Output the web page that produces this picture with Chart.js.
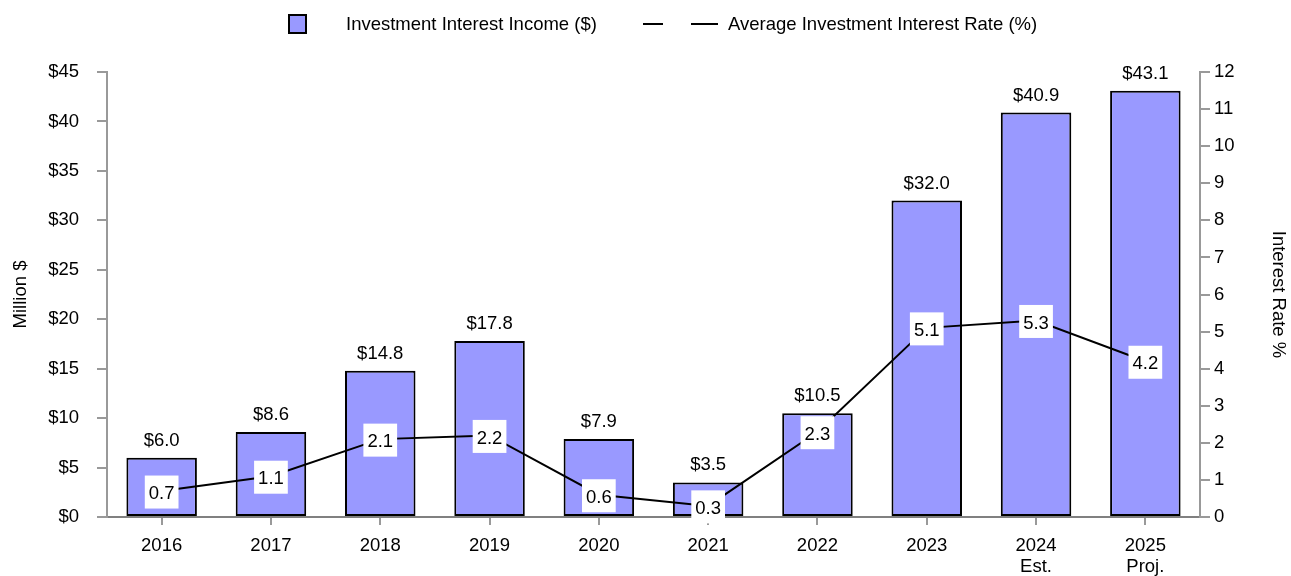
<!DOCTYPE html>
<html>
<head>
<meta charset="utf-8">
<script src="https://cdn.jsdelivr.net/npm/chart.js@4.4.1/dist/chart.umd.min.js"></script>
<style>
  html, body { margin: 0; padding: 0; background: #fff; }
</style>
</head>
<body>
<canvas id="income-chart" width="1291" height="576"></canvas>
<script>
const years = [['2016'], ['2017'], ['2018'], ['2019'], ['2020'], ['2021'], ['2022'], ['2023'], ['2024', 'Est.'], ['2025', 'Proj.']];
const interestIncome = [6.0, 8.6, 14.8, 17.8, 7.9, 3.5, 10.5, 32.0, 40.9, 43.1];
const interestRate = [0.7, 1.1, 2.1, 2.2, 0.6, 0.3, 2.3, 5.1, 5.3, 4.2];
const incomeLabel = 'Investment Interest Income ($)';
const rateLabel = 'Average Investment Interest Rate (%)';

const FONT = '"Liberation Sans", Arial, sans-serif';
const FS = 18.5;
const BAR_COLOR = '#9999ff';
const AXIS_GRAY = '#999999';

Chart.defaults.font.family = FONT;
Chart.defaults.font.size = FS;
Chart.defaults.color = '#000';

// value labels: "$x.x" above bars, boxed rate numbers on the line
const valueLabels = {
    id: 'valueLabels',
    afterDatasetsDraw(chart) {
        const ctx = chart.ctx;
        ctx.save();
        ctx.font = FS + 'px ' + FONT;
        ctx.textAlign = 'center';
        ctx.textBaseline = 'middle';
        ctx.fillStyle = '#000';
        chart.getDatasetMeta(0).data.forEach((bar, i) => {
            ctx.fillText('$' + interestIncome[i].toFixed(1), bar.x, bar.y - 17);
        });
        chart.getDatasetMeta(1).data.forEach((pt, i) => {
            const txt = interestRate[i].toFixed(1);
            const w = ctx.measureText(txt).width + 8;
            const h = 33;
            ctx.fillStyle = '#fff';
            ctx.fillRect(pt.x - w / 2, pt.y - h / 2 + 1, w, h);
            ctx.fillStyle = '#000';
            ctx.fillText(txt, pt.x, pt.y + 3);
        });
        ctx.restore();
    }
};

// legend across the top
const topLegend = {
    id: 'topLegend',
    afterDraw(chart) {
        const ctx = chart.ctx;
        ctx.save();
        ctx.font = FS + 'px ' + FONT;
        ctx.textBaseline = 'middle';
        ctx.fillStyle = BAR_COLOR;
        ctx.strokeStyle = '#000';
        ctx.lineWidth = 2;
        ctx.fillRect(289, 15, 17, 18);
        ctx.strokeRect(289, 15, 17, 18);
        ctx.fillStyle = '#000';
        ctx.fillText(incomeLabel, 346, 25);
        ctx.beginPath();
        ctx.moveTo(643, 24); ctx.lineTo(663, 24);
        ctx.moveTo(691, 24); ctx.lineTo(718, 24);
        ctx.stroke();
        ctx.fillText(rateLabel, 728, 25);
        ctx.restore();
    }
};

new Chart(document.getElementById('income-chart'), {
    type: 'bar',
    data: {
        labels: years,
        datasets: [{
            type: 'bar',
            label: incomeLabel,
            data: interestIncome,
            yAxisID: 'y',
            backgroundColor: BAR_COLOR,
            borderColor: '#000',
            borderWidth: 2,
            borderSkipped: false,
            categoryPercentage: 1,
            barPercentage: 0.645,
            order: 2
        }, {
            type: 'line',
            label: rateLabel,
            data: interestRate,
            yAxisID: 'y1',
            borderColor: '#000',
            borderWidth: 2,
            pointRadius: 0,
            tension: 0,
            order: 1
        }]
    },
    options: {
        responsive: false,
        animation: false,
        layout: { padding: { top: 72, left: 0, right: 0, bottom: 0 } },
        plugins: {
            legend: { display: false },
            tooltip: { enabled: false }
        },
        scales: {
            x: {
                afterFit(scale) { scale.height = 59; },
                border: { color: '#808080', width: 2 },
                grid: { drawOnChartArea: false, offset: false, color: AXIS_GRAY, tickLength: 8, lineWidth: 2 },
                ticks: { padding: 10, maxRotation: 0, font: { size: FS, lineHeight: 1.15 } }
            },
            y: {
                position: 'left',
                min: 0,
                max: 45,
                afterFit(scale) { scale.width = 107; },
                border: { color: AXIS_GRAY, width: 2 },
                grid: { drawOnChartArea: false, color: AXIS_GRAY, tickLength: 10, lineWidth: 2 },
                ticks: { stepSize: 5, padding: 18, callback: v => '$' + v },
                title: { display: true, text: 'Million $', padding: 10, font: { size: FS } }
            },
            y1: {
                position: 'right',
                min: 0,
                max: 12,
                afterFit(scale) { scale.width = 91; },
                border: { color: AXIS_GRAY, width: 2 },
                grid: { drawOnChartArea: false, color: AXIS_GRAY, tickLength: 10, lineWidth: 2 },
                ticks: { stepSize: 1, padding: 4 },
                title: { display: true, text: 'Interest Rate %', padding: 2, font: { size: FS } }
            }
        }
    },
    plugins: [valueLabels, topLegend]
});
</script>
</body>
</html>
